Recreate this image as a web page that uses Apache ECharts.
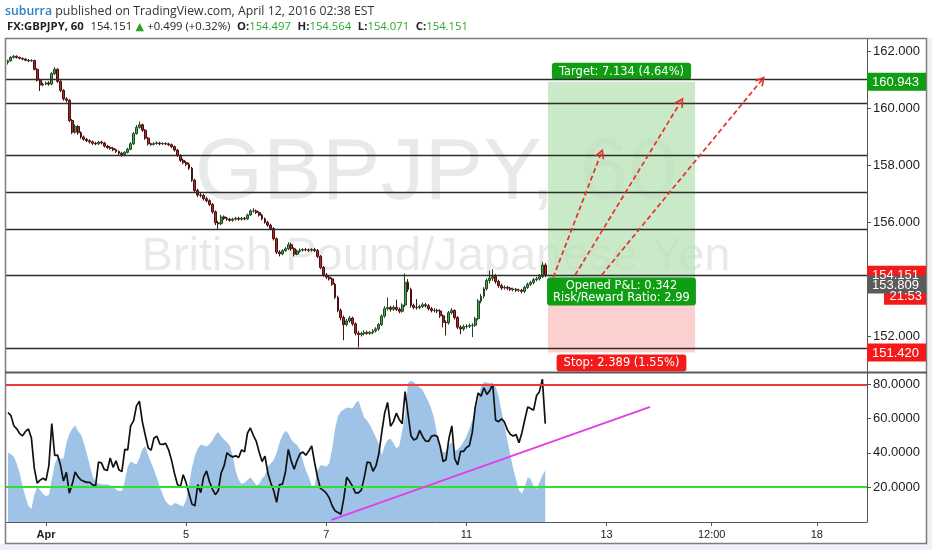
<!DOCTYPE html>
<html>
<head>
<meta charset="utf-8">
<title>GBPJPY, 60</title>
<script src="https://cdn.jsdelivr.net/npm/echarts@6/dist/echarts.min.js"></script>
<style>
  html, body { margin: 0; padding: 0; background: #fff; }
  #chart { width: 932px; height: 550px; }
</style>
</head>
<body>
<div id="chart"></div>
<script>
// hourly bars, index 0 = first bar on screen, 13 = Apr 1 00:00
var firstOpen = 161.62;
var closes = [
  161.68,161.80,161.84,161.80,161.77,161.74,161.70,161.68,161.69,161.38,
  161.00,160.83,160.86,160.90,160.86,161.23,161.38,160.96,160.64,160.34,
  160.29,159.58,159.17,159.37,159.15,159.00,158.92,158.87,158.83,158.78,
  158.76,158.82,158.79,158.68,158.63,158.60,158.55,158.49,158.43,158.38,
  158.46,158.57,158.76,159.12,159.34,159.43,159.24,158.96,158.76,158.74,
  158.77,158.79,158.76,158.77,158.76,158.73,158.66,158.54,158.35,158.18,
  158.10,158.04,157.90,157.48,157.12,156.96,156.95,156.83,156.76,156.63,
  156.37,155.98,155.95,156.19,156.14,156.11,156.07,156.11,156.14,156.11,
  156.14,156.12,156.26,156.40,156.40,156.34,156.25,156.12,156.00,155.90,
  155.78,155.42,154.95,154.89,155.00,155.07,155.21,155.07,154.88,154.99,
  155.02,155.04,155.03,155.02,155.04,155.01,154.80,154.41,154.15,154.07,
  154.01,153.82,153.36,152.90,152.65,152.40,152.53,152.63,152.43,152.10,
  152.05,152.09,152.12,152.10,152.12,152.18,152.25,152.40,152.70,152.96,
  153.00,152.94,153.01,152.94,152.87,153.09,153.89,153.64,153.08,153.01,
  153.00,153.04,153.10,153.06,152.96,152.90,152.90,152.88,152.71,152.48,
  152.46,152.82,152.90,152.65,152.31,152.25,152.33,152.34,152.37,152.38,
  152.61,153.23,153.40,153.66,153.95,154.03,154.09,153.92,153.77,153.69,
  153.71,153.68,153.64,153.64,153.61,153.61,153.57,153.71,153.82,153.88,
  153.98,154.01,154.09,154.497,154.151
];
var highs = [
  161.72,161.84,161.88,161.87,161.83,161.79,161.77,161.74,161.74,161.72,
  161.42,161.05,160.92,160.95,160.96,161.28,161.45,161.42,161.00,160.68,
  160.40,160.33,159.63,159.45,159.42,159.20,159.05,158.97,158.92,158.88,
  158.83,158.86,158.87,158.83,158.72,158.68,158.65,158.59,158.53,158.48,
  158.50,158.62,158.82,159.18,159.42,159.55,159.47,159.28,159.00,158.80,
  158.82,158.85,158.83,158.82,158.81,158.80,158.77,158.70,158.58,158.40,
  158.24,158.16,158.10,157.95,157.53,157.18,157.05,157.00,156.90,156.81,
  156.68,156.42,156.05,156.26,156.24,156.19,156.16,156.16,156.19,156.19,
  156.19,156.19,156.30,156.46,156.50,156.45,156.39,156.30,156.17,156.05,
  155.95,155.83,155.47,155.02,155.05,155.13,155.30,155.28,155.12,155.04,
  155.08,155.09,155.10,155.08,155.09,155.10,155.06,154.85,154.46,154.22,
  154.14,154.06,153.87,153.42,152.97,152.72,152.60,152.70,152.68,152.48,
  152.18,152.15,152.20,152.19,152.18,152.24,152.31,152.46,152.76,153.05,
  153.35,153.06,153.08,153.28,153.00,153.15,154.20,154.00,153.70,153.14,
  153.30,153.10,153.18,153.16,153.12,153.02,152.98,152.96,152.94,152.76,
  152.55,152.88,152.98,152.94,152.70,152.38,152.40,152.42,152.44,152.45,
  152.68,153.30,153.48,153.72,154.02,154.30,154.35,154.18,153.98,153.84,
  153.78,153.76,153.73,153.70,153.69,153.67,153.66,153.77,153.88,153.94,
  154.04,154.08,154.18,154.60,154.564
];
var lows = [
  161.55,161.65,161.76,161.76,161.73,161.70,161.66,161.63,161.64,161.34,
  160.95,160.62,160.78,160.82,160.80,160.82,161.18,160.90,160.58,160.28,
  160.22,159.52,159.10,159.12,159.08,158.94,158.87,158.82,158.77,158.72,
  158.71,158.72,158.74,158.63,158.58,158.55,158.50,158.44,158.37,158.30,
  158.34,158.42,158.53,158.72,159.08,159.29,159.18,158.90,158.70,158.69,
  158.70,158.73,158.71,158.72,158.71,158.68,158.61,158.49,158.30,158.12,
  158.04,157.97,157.84,157.42,157.05,156.89,156.88,156.77,156.70,156.57,
  156.30,155.90,155.76,155.90,156.08,156.05,156.02,156.02,156.06,156.06,
  156.06,156.07,156.08,156.22,156.34,156.29,156.20,156.07,155.95,155.84,
  155.72,155.36,154.88,154.80,154.84,154.96,155.02,155.00,154.80,154.84,
  154.93,154.97,154.98,154.96,154.97,154.95,154.74,154.35,154.08,154.00,
  153.95,153.76,153.30,152.84,152.55,151.85,152.34,152.47,152.36,152.02,
  151.60,151.98,152.02,152.04,152.04,152.06,152.12,152.18,152.35,152.64,
  152.90,152.86,152.88,152.88,152.80,152.82,153.02,153.55,153.00,152.94,
  152.93,152.94,152.98,153.00,152.90,152.83,152.83,152.80,152.64,152.30,
  152.02,152.40,152.76,152.58,152.24,152.06,152.18,152.26,152.28,151.96,
  152.32,152.55,153.15,153.32,153.60,153.85,153.94,153.84,153.70,153.62,
  153.63,153.62,153.58,153.57,153.55,153.55,153.50,153.52,153.66,153.76,
  153.82,153.92,153.95,154.04,154.071
];
var osc = [
  63.5,61.7,55.8,54,51.2,49.9,52.5,53.9,48.8,31,
  22.3,24,25.1,23.9,32.5,57,38.4,38.6,32.5,23.5,
  28.6,16.4,21.7,28.8,25.9,24.1,23.3,22.7,22.7,21.2,
  20.8,34.5,34.1,30.2,29.6,37,31.5,35.3,30,29,
  42,41.7,55.7,58.6,67.4,70.2,58.2,50.4,42.9,41.5,
  48.6,49.6,45.1,44.9,45.5,41.7,35.7,28,21.7,19.8,
  27.2,22.5,16,10,9,21.4,16.7,25.9,29.4,23.1,
  18.8,15.5,17.8,28.2,32.3,40,38.4,37.6,38.2,37.2,
  41.7,40.5,51.4,54.5,50.2,46.8,40.4,34.9,38,28.2,
  22.3,17.8,11,21.4,21.7,28.6,42,35.1,30.4,35.5,
  39.4,40.4,38.6,41,44,34.3,25.7,19.2,18,16.4,
  13.7,9.2,6.1,5.1,4.1,13.3,25.7,23.3,20.4,16.6,
  16.6,18.2,25.5,34.5,34.3,29.2,32.3,39.4,51.9,63.3,
  69.4,55.5,58.2,63.1,59.4,57,75.7,62.5,50,47.5,
  48.4,53.1,49.4,46.9,46.6,49.6,50.2,49.6,43.7,34.9,
  35.9,48.4,55.7,36.5,32.9,40.8,40.8,43.1,44.1,51.9,
  66.5,74.9,73.1,78,74.1,76.3,80.2,59,58.2,59.8,
  58,53.5,50.8,49.8,50.6,45.9,51.7,59.4,66.8,65.9,
  64.9,73.3,75.7,83,57
];
var oscArea = [
  40,39.2,37.8,33.7,28,20.6,13.9,9,7.1,15.3,
  20.2,18.2,15.9,14.7,15.3,24.5,33.5,37.4,36.5,36.8,
  45.7,51,54.1,55.9,52.5,50.6,45.5,39.4,32.7,26.1,
  23.1,22.1,21.6,21.4,21.6,20.8,20.8,18.4,17.8,17.6,
  23.3,31.9,35.1,33.9,33.3,36.8,42,43.9,38.6,34.3,
  30,25.3,20,15.3,11.6,9.8,9,10.6,10.2,9.4,
  8.6,12.3,21.2,31.4,38.2,42.5,44.7,44.3,43.7,45.1,
  47.2,50.4,52.1,49.6,47.8,46.1,43.9,38,29.2,24.3,
  21.8,22.5,24.1,25.5,23.7,21,21.8,24.9,26.7,31.8,
  33.9,35.7,39.8,46,50.2,52.9,51.2,47.8,45.9,44.7,
  41.4,35.5,29.6,25.9,20.8,20.8,29.8,32.7,32.5,31.9,
  33.9,42.3,54.1,61.2,64.1,65.3,66.5,66.1,65.9,69,
  70.6,65.5,60.4,58.8,56.1,52.5,49,45.3,38.6,44.1,
  47.4,48.2,45.7,42.5,44.1,52.7,62.3,80.8,82.1,81.2,
  79.8,78.2,76.6,73.1,69.8,65.5,59.6,50.2,43.5,40.4,
  40.4,44.7,46.1,41,42,43.7,46.5,49.6,53.9,59,
  64.3,71.2,78.8,81.2,81,80.6,80.4,78.6,73.3,64.5,
  56.1,47.4,38.8,31,24.3,18.1,16.1,20.4,25.7,24.7,
  20.4,18.8,22.7,26.8,29.6
];

// drawings
var hLines = [161.03, 160.20, 158.36, 157.06, 155.76, 154.15, 151.56];
var entry = 153.809, target = 160.943, stop = 151.420;
var boxFrom = 184.9, boxTo = 235.3;
var arrows = [
  [186.7, 154.06, 203.1, 158.42],
  [194.2, 154.14, 230.4, 160.24],
  [203.3, 154.14, 258.1, 161.00]
];
var trend = [110.8, 0.8, 219.9, 66.8];
var obLevel = 80, osLevel = 20;

// axes
var xMin = -0.685, xMax = 294.18;
var tickPos = [13, 61, 109, 157, 205, 241, 277];
var tickText = ['Apr', '5', '7', '11', '13', '12:00', '18'];
var priceTicks = [152, 156, 158, 160, 162];
var oscTicks = [20, 40, 60, 80];

var candles = closes.map(function (c, i) {
  var o = i ? closes[i - 1] : firstOpen;
  return [i, o, c, lows[i], highs[i]];
});
var last = candles[candles.length - 1];
var oscData = osc.map(function (v, i) { return [i, v]; });
var areaData = oscArea.map(function (v, i) { return [i, v]; });

var reward = target - entry, risk = entry - stop;
var pnl = last[2] - entry;

var chevron = 'path://M5,0 L10,9 L8.6,10 L5,3.3 L1.4,10 L0,9 Z';
var labelFont = 'DejaVu Sans';

var chart = echarts.init(document.getElementById('chart'));

var graphics = [
  { type: 'rect', z: 0, shape: { x: 0, y: 544, width: 932, height: 6 }, style: { fill: '#eef1f5' } },
  { type: 'rect', z: 0, shape: { x: 927, y: 38, width: 5, height: 512 }, style: { fill: '#eef1f5' } },
  { type: 'text', z: 1, style: {
      x: 436, y: 175, text: 'GBPJPY, 60', textAlign: 'center', textVerticalAlign: 'middle',
      font: '88px "Liberation Sans", Arial, sans-serif', fill: 'rgba(0,0,0,0.085)' } },
  { type: 'text', z: 1, style: {
      x: 436, y: 257, text: 'British Pound/Japanese Yen', textAlign: 'center', textVerticalAlign: 'middle',
      font: '47px "Liberation Sans", Arial, sans-serif', fill: 'rgba(0,0,0,0.085)' } },
  { type: 'text', z: 100, style: {
      x: 5, y: 11, textVerticalAlign: 'middle',
      text: '{u|suburra} {t|published on TradingView.com, April 12, 2016 02:38 EST}',
      rich: {
        u: { fill: '#2f7fc1', font: '600 12.3px "Open Sans", sans-serif' },
        t: { fill: '#333', font: '12.3px "Open Sans", sans-serif' }
      } } },
  { type: 'text', z: 100, style: {
      x: 7, y: 27, textVerticalAlign: 'middle',
      text: '{b|FX:GBPJPY, 60}  {n|' + last[2].toFixed(3) + '} {g|▲} {n|+0.499 (+0.32%)}  ' +
            '{b|O:}{v|' + last[1].toFixed(3) + '}  {b|H:}{v|' + last[4].toFixed(3) + '}  ' +
            '{b|L:}{v|' + last[3].toFixed(3) + '}  {b|C:}{v|' + last[2].toFixed(3) + '}',
      rich: {
        b: { fill: '#222', font: 'bold 11.3px "Open Sans", sans-serif' },
        n: { fill: '#222', font: '11.3px "Open Sans", sans-serif' },
        g: { fill: '#27a327', font: '11px "DejaVu Sans", sans-serif' },
        v: { fill: '#2ea82e', font: '11.3px "Open Sans", sans-serif' }
      } } },
  { type: 'rect', z: 100, shape: { x: 5.5, y: 38.5, width: 921, height: 505 },
    style: { fill: 'none', stroke: '#7d7d7d', lineWidth: 1.5 } },
  { type: 'line', z: 100, shape: { x1: 5, y1: 372.5, x2: 927, y2: 372.5 },
    style: { stroke: '#5a5a5a', lineWidth: 2 } }
];

var option = {
  animation: false,
  backgroundColor: '#ffffff',
  textStyle: { fontFamily: '"Liberation Sans", Arial, sans-serif' },
  grid: [
    { left: 6, right: 65, top: 39, height: 333 },
    { left: 6, right: 65, top: 373, height: 149 }
  ],
  xAxis: [
    { type: 'value', gridIndex: 0, min: xMin, max: xMax,
      axisLine: { show: false }, axisTick: { show: false }, axisLabel: { show: false }, splitLine: { show: false } },
    { type: 'value', gridIndex: 1, min: xMin, max: xMax,
      axisLine: { onZero: false, lineStyle: { color: '#555', width: 1 } },
      axisTick: { customValues: tickPos, length: 4, lineStyle: { color: '#555' } },
      axisLabel: {
        customValues: tickPos, color: '#222', fontSize: 11, margin: 7,
        formatter: function (v) {
          var t = tickText[tickPos.indexOf(Math.round(v))] || '';
          return t === 'Apr' ? '{b|' + t + '}' : t;
        },
        rich: { b: { fontWeight: 'bold', fontSize: 11, color: '#222' } }
      },
      splitLine: { show: false } }
  ],
  yAxis: [
    { type: 'value', gridIndex: 0, position: 'right', min: 150.734, max: 162.447,
      axisLine: { show: true, onZero: false, lineStyle: { color: '#555' } },
      axisTick: { show: true, customValues: priceTicks, length: 4, lineStyle: { color: '#555' } },
      axisLabel: { customValues: priceTicks, color: '#222', fontSize: 13, margin: 6,
        formatter: function (v) { return v.toFixed(3); } },
      splitLine: { show: false } },
    { type: 'value', gridIndex: 1, position: 'right', min: -0.45, max: 86.6,
      axisLine: { show: true, onZero: false, lineStyle: { color: '#555' } },
      axisTick: { show: true, customValues: oscTicks, length: 4, lineStyle: { color: '#555' } },
      axisLabel: { customValues: oscTicks, color: '#222', fontSize: 13, margin: 6,
        formatter: function (v) { return v.toFixed(4); } },
      splitLine: { show: false } }
  ],
  series: [
    {
      type: 'candlestick', xAxisIndex: 0, yAxisIndex: 0,
      data: candles, encode: { x: 0, y: [1, 2, 3, 4] },
      barWidth: 2.4, silent: true,
      itemStyle: { color: '#4fa34f', color0: '#b52828', borderColor: '#1d4a20', borderColor0: '#4a1010', borderWidth: 1 },
      markLine: {
        silent: true, symbol: ['none', 'none'], label: { show: false },
        lineStyle: { color: '#2e2e2e', width: 1.4, type: 'solid' },
        data: hLines.map(function (v) { return { yAxis: v }; })
      },
      markArea: {
        silent: true,
        data: [
          [{ xAxis: boxFrom, yAxis: target, itemStyle: { color: 'rgba(186,227,184,0.78)' },
             label: { show: true, position: 'top', distance: 2,
               formatter: 'Target: ' + reward.toFixed(3) + ' (' + (reward / entry * 100).toFixed(2) + '%)',
               color: '#fff', backgroundColor: '#0f9d12', padding: [3, 7, 2, 7], borderRadius: 3,
               fontSize: 11.5, fontFamily: labelFont } },
           { xAxis: boxTo, yAxis: entry }],
          [{ xAxis: boxFrom, yAxis: entry, itemStyle: { color: 'rgba(252,196,196,0.8)' },
             label: { show: true, position: 'insideTop', distance: 0, offset: [0, -7],
               formatter: 'Opened P&L: ' + pnl.toFixed(3) + '\nRisk/Reward Ratio: ' + (reward / risk).toFixed(2),
               color: '#fff', backgroundColor: '#0f9d12', padding: [2, 6, 1, 6], borderRadius: 3,
               lineHeight: 12.5, fontSize: 11.5, fontFamily: labelFont } },
           { xAxis: boxTo, yAxis: stop }],
          [{ xAxis: boxFrom, yAxis: entry, itemStyle: { color: 'rgba(0,0,0,0)' },
             label: { show: true, position: 'bottom', distance: 2,
               formatter: 'Stop: ' + risk.toFixed(3) + ' (' + (risk / entry * 100).toFixed(2) + '%)',
               color: '#fff', backgroundColor: '#f51a1a', padding: [3, 7, 2, 7], borderRadius: 3,
               fontSize: 11.5, fontFamily: labelFont } },
           { xAxis: boxTo, yAxis: stop }]
        ]
      }
    },
    {
      type: 'lines', coordinateSystem: 'cartesian2d', xAxisIndex: 0, yAxisIndex: 0,
      silent: true, z: 5,
      symbol: ['none', chevron], symbolSize: 10,
      lineStyle: { color: '#e8302b', width: 1.7, type: [5, 3], opacity: 1 },
      data: arrows.map(function (a) { return { coords: [[a[0], a[1]], [a[2], a[3]]] }; })
    },
    {
      type: 'line', xAxisIndex: 1, yAxisIndex: 1, data: areaData,
      showSymbol: false, silent: true,
      lineStyle: { width: 0 }, itemStyle: { color: '#9fc3e7' },
      areaStyle: { color: '#9fc3e7', opacity: 1, origin: 'start' }
    },
    {
      type: 'line', xAxisIndex: 1, yAxisIndex: 1, data: oscData,
      showSymbol: false, silent: true, z: 4,
      lineStyle: { color: '#111', width: 1.7 }, itemStyle: { color: '#111' },
      markLine: {
        silent: true, symbol: ['none', 'none'], label: { show: false },
        data: [
          { yAxis: obLevel, lineStyle: { color: '#f03a3a', width: 2, type: 'solid' } },
          { yAxis: osLevel, lineStyle: { color: '#2fe02f', width: 2, type: 'solid' } }
        ]
      }
    },
    {
      type: 'lines', coordinateSystem: 'cartesian2d', xAxisIndex: 1, yAxisIndex: 1,
      silent: true, z: 5,
      lineStyle: { color: '#e43ee8', width: 2, opacity: 1 },
      data: [{ coords: [[trend[0], trend[1]], [trend[2], trend[3]]] }]
    }
  ],
  graphic: graphics
};

chart.setOption(option);

// price tags on the right scale
function priceTag(v, txt, bg) {
  var y = chart.convertToPixel({ yAxisIndex: 0 }, v);
  return [
    { type: 'rect', z: 110, shape: { x: 867, y: y - 9, width: 59, height: 18 }, style: { fill: bg } },
    { type: 'text', z: 111, style: { x: 872, y: y + 0.5, text: txt, fill: '#fff', textVerticalAlign: 'middle',
      font: '13px "Liberation Sans", Arial, sans-serif' } }
  ];
}
var yLast = chart.convertToPixel({ yAxisIndex: 0 }, last[2]);
var tags = []
  .concat(priceTag(target, target.toFixed(3), '#0f9d12'))
  .concat(priceTag(stop, stop.toFixed(3), '#f51a1a'))
  .concat(priceTag(last[2], last[2].toFixed(3), '#f51a1a'))
  .concat([
    { type: 'rect', z: 110, shape: { x: 884, y: yLast + 8, width: 42, height: 22 }, style: { fill: '#f51a1a' } },
    { type: 'text', z: 111, style: { x: 922, y: yLast + 22, text: '21:53', fill: '#fff', textAlign: 'right',
      textVerticalAlign: 'middle', font: '13px "Liberation Sans", Arial, sans-serif' } }
  ])
  .concat(priceTag(entry, entry.toFixed(3), '#5b5b5b'));

chart.setOption({ graphic: graphics.concat(tags) });
</script>
</body>
</html>
